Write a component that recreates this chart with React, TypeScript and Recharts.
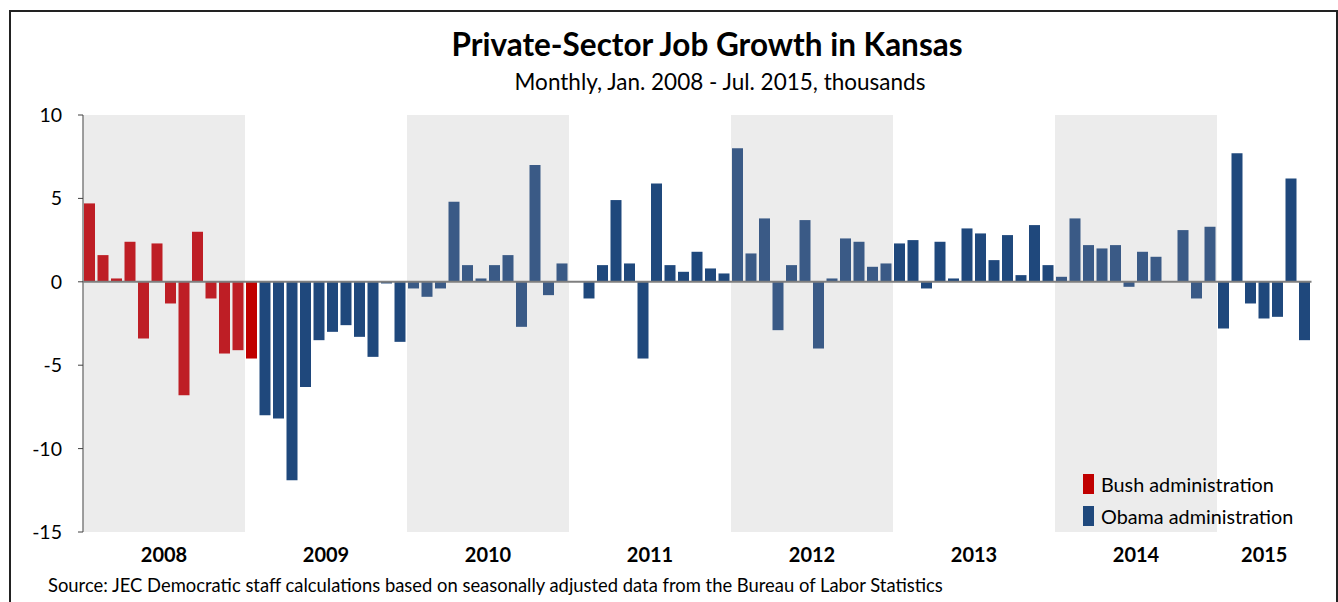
import { BarChart, Bar, Cell, XAxis, YAxis, ReferenceArea, ReferenceLine } from "recharts"

// monthly change, thousands, Jan 2008 - Jul 2015
const bush = [4.7, 1.6, 0.2, 2.4, -3.4, 2.3, -1.3, -6.8, 3.0, -1.0, -4.3, -4.1, -4.6]
const obama = [
  // 2009 (Feb-Dec)
  -8.0, -8.2, -11.9, -6.3, -3.5, -3.0, -2.6, -3.3, -4.5, -0.1, -3.6,
  // 2010
  -0.4, -0.9, -0.4, 4.8, 1.0, 0.2, 1.0, 1.6, -2.7, 7.0, -0.8, 1.1,
  // 2011
  0, -1.0, 1.0, 4.9, 1.1, -4.6, 5.9, 1.0, 0.6, 1.8, 0.8, 0.5,
  // 2012
  8.0, 1.7, 3.8, -2.9, 1.0, 3.7, -4.0, 0.2, 2.6, 2.4, 0.9, 1.1,
  // 2013
  2.3, 2.5, -0.4, 2.4, 0.2, 3.2, 2.9, 1.3, 2.8, 0.4, 3.4, 1.0,
  // 2014
  0.3, 3.8, 2.2, 2.0, 2.2, -0.3, 1.8, 1.5, 0, 3.1, -1.0, 3.3,
  // 2015 (Jan-Jul)
  -2.8, 7.7, -1.3, -2.2, -2.1, 6.2, -3.5,
]
const years = ["2008", "2009", "2010", "2011", "2012", "2013", "2014", "2015"]
const yTicks = [-15, -10, -5, 0, 5, 10]
const shadedYears = ["2008", "2010", "2012", "2014"]

const values = [...bush, ...obama]
const data = values.map((v, i) => ({ x: i + 0.5, v, bush: i < bush.length }))

const monthsIn = (y: string) => (y === "2015" ? 7 : 12)
const yearStart = (y: string) => years.indexOf(y) * 12
const yearCenters = years.map((y) => yearStart(y) + monthsIn(y) / 2)

const font = "Lato, 'Open Sans', sans-serif"

function barColor(i: number, isBush: boolean) {
  const year = years[Math.floor(i / 12)]
  const shaded = shadedYears.includes(year)
  if (isBush) return shaded ? "#be1e25" : "#c00000"
  return shaded ? "#3a5a86" : "#1f487c"
}

function LegendBox() {
  const row = (color: string, label: string) => (
    <div style={{ display: "flex", alignItems: "center", height: 32 }}>
      <div style={{ width: 11, height: 20, background: color, marginRight: 7 }} />
      <span style={{ fontSize: 19.8, color: "#000", fontFamily: font }}>{label}</span>
    </div>
  )
  return (
    <div style={{ position: "absolute", left: 1083, top: 468 }}>
      {row("#c00000", "Bush administration")}
      {row("#1f487c", "Obama administration")}
    </div>
  )
}

export default function App() {
  return (
    <div style={{ position: "fixed", left: 0, top: 0, width: 1338, height: 602, background: "#fff", overflow: "hidden", fontFamily: font }}>
      <div style={{ position: "absolute", left: 9, top: 10, width: 1325, height: 640, border: "2px solid #222" }} />
      <div style={{ position: "absolute", left: 0, width: 1414, top: 25, textAlign: "center", fontSize: 31.5, fontWeight: 700, color: "#000" }}>
        Private-Sector Job Growth in Kansas
      </div>
      <div style={{ position: "absolute", left: 0, width: 1440, top: 68, textAlign: "center", fontSize: 22.5, color: "#000" }}>
        Monthly, Jan. 2008 - Jul. 2015, thousands
      </div>
      <div style={{ position: "absolute", left: 48, top: 574, fontSize: 18.4, color: "#000" }}>
        Source: JEC Democratic staff calculations based on seasonally adjusted data from the Bureau of Labor Statistics
      </div>
      <div style={{ position: "absolute", left: 0, top: 0 }}>
        <BarChart width={1338} height={602} data={data} margin={{ top: 115, right: 26.5, bottom: 30, left: 23 }}>
          {shadedYears.map((y) => (
            <ReferenceArea key={y} x1={yearStart(y)} x2={yearStart(y) + monthsIn(y)} y1={-15} y2={10} fill="#ececec" fillOpacity={1} stroke="none" />
          ))}
          <XAxis
            dataKey="x"
            type="number"
            domain={[0, values.length]}
            ticks={yearCenters}
            tickFormatter={(v: number) => years[yearCenters.indexOf(v)]}
            axisLine={false}
            tickLine={false}
            tickMargin={10}
            height={40}
            tick={{ fontSize: 20, fontWeight: 700, fill: "#000", fontFamily: font }}
            interval={0}
          />
          <YAxis
            domain={[-15, 10]}
            ticks={yTicks}
            width={60}
            axisLine={{ stroke: "#7f7f7f", strokeWidth: 1.5 }}
            tickLine={{ stroke: "#404040" }}
            tickSize={5}
            tickMargin={16}
            tick={{ fontSize: 19.5, fill: "#000", fontFamily: font }}
          />
          <ReferenceLine y={0} stroke="#7f7f7f" strokeWidth={2} />
          <Bar dataKey="v" barSize={11} isAnimationActive={false}>
            {data.map((d, i) => (
              <Cell key={i} fill={barColor(i, d.bush)} />
            ))}
          </Bar>
        </BarChart>
      </div>
      <LegendBox />
    </div>
  )
}
